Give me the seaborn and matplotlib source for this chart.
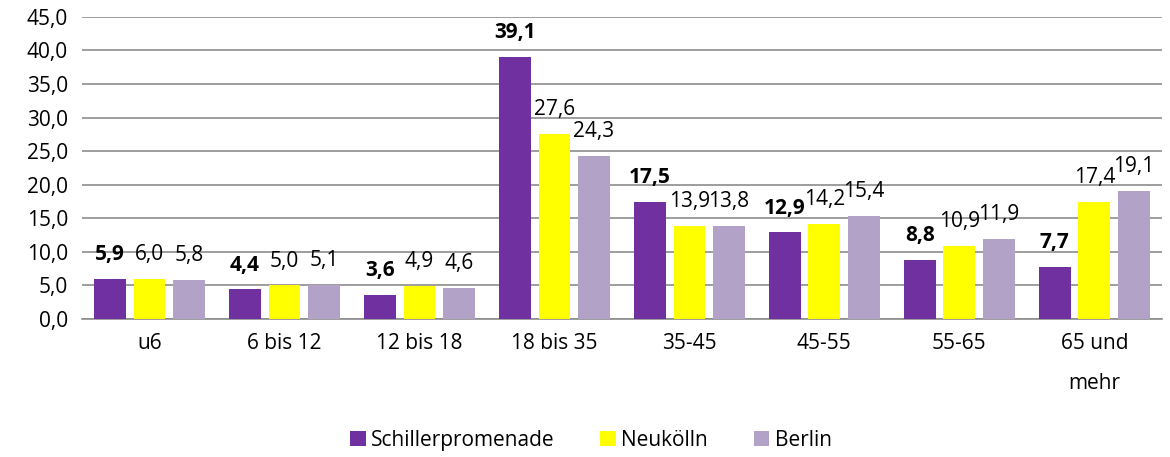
import pandas as pd
import numpy as np
import matplotlib
matplotlib.use("Agg")
import matplotlib.pyplot as plt
import seaborn as sns

sns.set_style("white")
plt.rcParams['font.family'] = ['Open Sans', 'DejaVu Sans']
plt.rcParams['text.color'] = 'black'
plt.rcParams['xtick.color'] = 'black'
plt.rcParams['ytick.color'] = 'black'

# Daten
gruppen = ['u6', '6 bis 12', '12 bis 18', '18 bis 35', '35-45', '45-55', '55-65', '65 und\nmehr']
serien = ['Schillerpromenade', 'Neukölln', 'Berlin']
schiller = [5.9, 4.4, 3.6, 39.1, 17.5, 12.9, 8.8, 7.7]
neukoelln = [6.0, 5.0, 4.9, 27.6, 13.9, 14.2, 10.9, 17.4]
berlin = [5.8, 5.1, 4.6, 24.3, 13.8, 15.4, 11.9, 19.1]
colors = ['#7030A0', '#FFFF00', '#B3A2C7']

df = pd.DataFrame({
    'gruppe': gruppen * 3,
    'serie': [s for s in serien for _ in gruppen],
    'wert': schiller + neukoelln + berlin,
})

f, ax = plt.subplots(figsize=(11.7, 4.57), dpi=100)
f.subplots_adjust(left=0.07, right=0.993, top=0.963, bottom=0.302)

sns.barplot(data=df, x='gruppe', y='wert', hue='serie', order=gruppen, hue_order=serien,
            palette=colors, width=0.88, gap=0.2, saturation=1, linewidth=0, ax=ax, zorder=3)

fmt = lambda v: ('%.1f' % v).replace('.', ',')
for i, cont in enumerate(ax.containers):
    vals = [schiller, neukoelln, berlin][i]
    ax.bar_label(cont, labels=[fmt(v) for v in vals], padding=10, fontsize=15,
                 fontweight='bold' if i == 0 else 'normal')

ax.set_ylim(0, 45)
ax.set_yticks(np.arange(0, 46, 5))
ax.set_yticklabels([fmt(v) for v in np.arange(0, 46, 5)], fontsize=15)
ax.tick_params(axis='x', labelsize=15, length=0, pad=10)
ax.tick_params(axis='y', length=0, pad=10)
for t in ax.get_xticklabels():
    t.set_linespacing(2.2)
ax.set_xlim(-0.5, 7.5)
ax.yaxis.grid(True, color='#8C8C8C', linewidth=1.2, zorder=0)
ax.set_axisbelow(True)
for s in ['top', 'right', 'left']:
    ax.spines[s].set_visible(False)
ax.spines['bottom'].set_color('#8C8C8C')
ax.spines['bottom'].set_linewidth(1.2)
ax.set_xlabel('')
ax.set_ylabel('')

handles, labels = ax.get_legend_handles_labels()
ax.get_legend().remove()
f.legend(handles, labels, loc='center', bbox_to_anchor=(0.505, 0.037), ncol=3, frameon=False,
         fontsize=15, handlelength=0.75, handleheight=0.75, handletextpad=0.25, columnspacing=2.2)

plt.savefig('out.png', dpi=100)
